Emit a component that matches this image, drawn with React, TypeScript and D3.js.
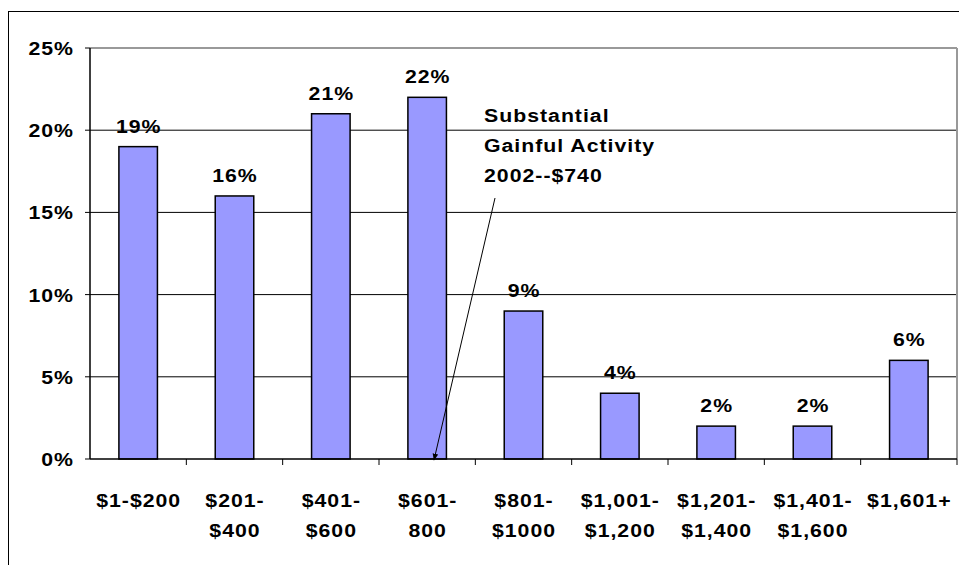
import React from "react";
import * as d3 from "d3";

const categories = ["$1-$200", "$201-$400", "$401-$600", "$601-800", "$801-$1000", "$1,001-$1,200", "$1,201-$1,400", "$1,401-$1,600", "$1,601+"];
const categoryLines = [["$1-$200"], ["$201-", "$400"], ["$401-", "$600"], ["$601-", "800"], ["$801-", "$1000"], ["$1,001-", "$1,200"], ["$1,201-", "$1,400"], ["$1,401-", "$1,600"], ["$1,601+"]];
const values = [19, 16, 21, 22, 9, 4, 2, 2, 6];
const yTicks = [0, 5, 10, 15, 20, 25];
const annotationLines = ["Substantial", "Gainful Activity", "2002--$740"];

const SX = 1.15;
const FS = 18.5;
const LS = 0.87;

function T({ x, y, anchor, children }: { x: number; y: number; anchor: string; children: React.ReactNode }) {
  const shift = anchor === "end" ? LS : anchor === "middle" ? LS / 2 : 0;
  return (
    <g transform={`translate(${x + shift * SX},${y}) scale(${SX},1)`}>
      <text x={0} y={0} textAnchor={anchor} fontSize={FS} fontWeight="bold" letterSpacing={LS}>{children}</text>
    </g>
  );
}

export default function App() {
  const W = 959, H = 565;
  const left = 90, right = 957, top = 48, bottom = 459;
  const x = d3.scaleBand<string>().domain(categories).range([left, right]).paddingInner(0.6).paddingOuter(0.3);
  const step = x.step();
  const y = d3.scaleLinear().domain([0, 25]).range([bottom, top]);
  const font = "'Liberation Sans', Arial, sans-serif";
  const cx = (c: string) => (x(c) as number) + x.bandwidth() / 2;
  return (
    <svg width={W} height={H} style={{ position: "absolute", left: 0, top: 0 }} fontFamily={font}>
      <defs>
        <marker id="arr" viewBox="0 0 10 10" refX="9" refY="5" markerWidth="7" markerHeight="7" orient="auto">
          <path d="M0,1 L10,5 L0,9 z" fill="#000" />
        </marker>
      </defs>
      <rect x={0} y={0} width={W} height={H} fill="#fff" />
      <rect x={8.5} y={11.5} width={W + 10} height={H} fill="none" stroke="#000" strokeWidth={1} />
      {yTicks.slice(1, -1).map((t) => (
        <line key={t} x1={left} x2={right} y1={y(t)} y2={y(t)} stroke="#000" strokeWidth={1} />
      ))}
      <line x1={left} x2={right} y1={y(25)} y2={y(25)} stroke="#999" strokeWidth={2} />
      <line x1={right} x2={right} y1={y(25)} y2={bottom} stroke="#999" strokeWidth={2} />
      {categories.map((c, i) => (
        <rect key={c} x={x(c)} y={y(values[i])} width={x.bandwidth()} height={bottom - y(values[i])} fill="#9999FF" stroke="#000" strokeWidth={1.5} />
      ))}
      <line x1={left} x2={left} y1={top} y2={bottom} stroke="#000" strokeWidth={1.5} />
      <line x1={left} x2={right} y1={bottom} y2={bottom} stroke="#000" strokeWidth={1.5} />
      {yTicks.map((t) => (
        <g key={t}>
          <line x1={left - 5} x2={left} y1={y(t)} y2={y(t)} stroke="#000" strokeWidth={1} />
          <T x={73} y={y(t) + 7} anchor="end">{t}%</T>
        </g>
      ))}
      {categories.map((c, i) => (
        <line key={"tk" + c} x1={left + step * (i + 1)} x2={left + step * (i + 1)} y1={bottom} y2={bottom + 6} stroke="#000" strokeWidth={1} />
      ))}
      {categories.map((c, i) => (
        <T key={"v" + c} x={cx(c)} y={y(values[i]) - 14} anchor="middle">{values[i]}%</T>
      ))}
      {categories.map((c, i) => (
        <g key={"l" + c}>
          {categoryLines[i].map((ln, j) => (
            <T key={j} x={cx(c)} y={507 + j * 30} anchor="middle">{ln}</T>
          ))}
        </g>
      ))}
      {annotationLines.map((ln, j) => (
        <T key={ln} x={484} y={122 + j * 30} anchor="start">{ln}</T>
      ))}
      <line x1={495} y1={198} x2={434} y2={460} stroke="#000" strokeWidth={1} markerEnd="url(#arr)" />
    </svg>
  );
}
